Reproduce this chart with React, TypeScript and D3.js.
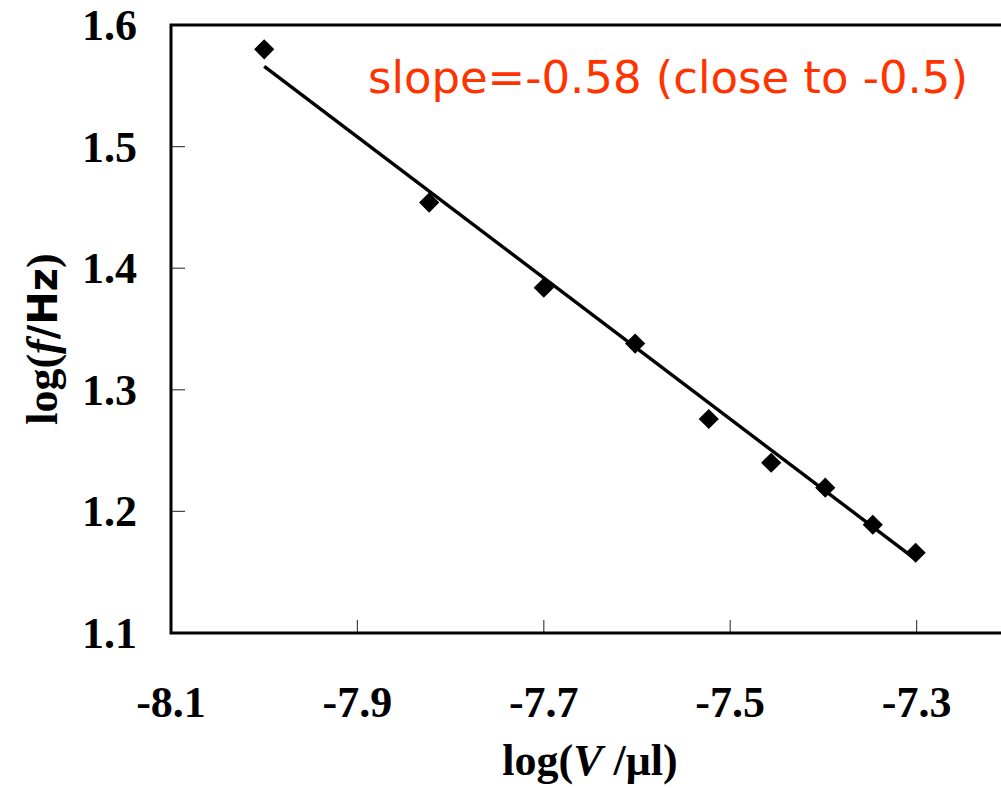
import React from "react";
import * as d3 from "d3";

// Measured volume vs. frequency (log-log)
const logVolume = [-8.0, -7.823, -7.7, -7.602, -7.523, -7.456, -7.398, -7.347, -7.301];
const logFreq = [1.58, 1.454, 1.384, 1.338, 1.276, 1.24, 1.2195, 1.189, 1.166];

// Linear fit endpoints (slope -0.58)
const fitX = [-8.0, -7.3];
const fitY = [1.566, 1.16];

const xTicks = [-8.1, -7.9, -7.7, -7.5, -7.3];
const yTicks = [1.1, 1.2, 1.3, 1.4, 1.5, 1.6];

const W = 1001;
const H = 788;
const serif = "'Liberation Serif', 'Times New Roman', serif";
const sans = "'DejaVu Sans', Verdana, sans-serif";

export default function App() {
  const x = d3.scaleLinear().domain([-8.1, -7.1]).range([171, 1103]);
  const y = d3.scaleLinear().domain([1.1, 1.6]).range([633, 25]);
  const fitLine = d3.line<number>().x((d, i) => x(fitX[i])).y((d) => y(d));
  const diamond = d3.symbol().type(d3.symbolDiamond2).size(260)();
  const x0 = x(-8.1);
  const xEnd = x(-7.1);
  const yTop = y(1.6);
  const yBot = y(1.1);

  return (
    <svg
      width={W}
      height={H}
      style={{ position: "absolute", left: 0, top: 0, background: "#fff" }}
    >
      {/* tick marks (inside) */}
      {yTicks.map((t) => (
        <line key={"yt" + t} x1={x0} x2={x0 + 14} y1={y(t)} y2={y(t)} stroke="#444" strokeWidth={1.2} />
      ))}
      {xTicks.map((t) => (
        <line key={"xt" + t} x1={x(t)} x2={x(t)} y1={yBot} y2={yBot - 13} stroke="#444" strokeWidth={1.2} />
      ))}
      {/* frame */}
      <path
        d={`M${xEnd},${yTop}H${x0}V${yBot}H${xEnd}`}
        fill="none"
        stroke="#000"
        strokeWidth={3}
      />
      {/* tick labels */}
      {yTicks.map((t) => (
        <text
          key={"yl" + t}
          x={137}
          y={y(t) + 15}
          textAnchor="end"
          fontFamily={serif}
          fontWeight="bold"
          fontSize={44}
        >
          {t.toFixed(1)}
        </text>
      ))}
      {xTicks.map((t) => (
        <text
          key={"xl" + t}
          x={x(t)}
          y={717}
          textAnchor="middle"
          fontFamily={serif}
          fontWeight="bold"
          fontSize={44}
        >
          {t.toFixed(1)}
        </text>
      ))}
      {/* fit line */}
      <path d={fitLine(fitY) || ""} fill="none" stroke="#000" strokeWidth={3.4} />
      {/* data points */}
      {logVolume.map((v, i) => (
        <path key={"p" + i} d={diamond || ""} transform={`translate(${x(v)},${y(logFreq[i])})`} fill="#000" />
      ))}
      {/* annotation */}
      <text
        x={368}
        y={93}
        fontFamily={sans}
        fontSize={45}
        fill="#ff3300"
        textLength={600}
        lengthAdjust="spacing"
      >
        slope=-0.58 (close to -0.5)
      </text>
      {/* axis titles */}
      <text x={590} y={775} textAnchor="middle" fontFamily={serif} fontWeight="bold" fontSize={44}>
        log(<tspan fontStyle="italic">V</tspan> /μl)
      </text>
      <text
        transform="translate(57,339) rotate(-90)"
        textAnchor="middle"
        fontFamily={serif}
        fontWeight="bold"
        fontSize={44}
      >
        log(<tspan fontStyle="italic">f</tspan>
        <tspan fontFamily={sans} fontSize={40}>/Hz</tspan>)
      </text>
    </svg>
  );
}
